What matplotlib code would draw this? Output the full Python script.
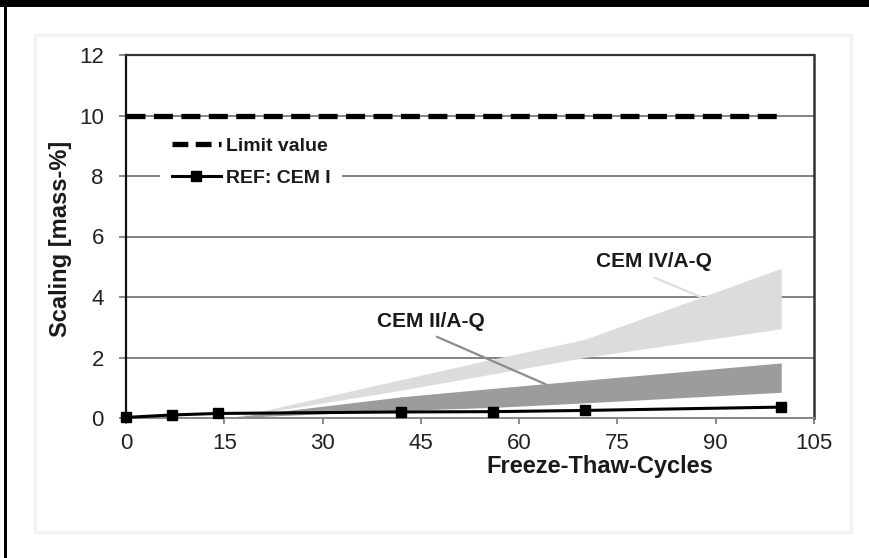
import matplotlib
matplotlib.use("Agg")
import matplotlib.pyplot as plt
from matplotlib.lines import Line2D
from matplotlib.patches import Rectangle

# ---- data ----
ref_x = [0, 7, 14, 42, 56, 70, 100]
ref_y = [0.02, 0.10, 0.15, 0.20, 0.21, 0.25, 0.36]

limit_x = [0, 100]
limit_y = [10, 10]

cem2_x = [15, 42, 56, 70, 100]
cem2_low = [0.0, 0.25, 0.35, 0.50, 0.85]
cem2_high = [0.0, 0.70, 0.98, 1.25, 1.82]

cem4_x = [16, 42, 56, 70, 100]
cem4_low = [0.0, 0.92, 1.46, 2.00, 2.95]
cem4_high = [0.0, 1.27, 1.95, 2.60, 4.95]

xticks = [0, 15, 30, 45, 60, 75, 90, 105]
yticks = [0, 2, 4, 6, 8, 10, 12]

W, H = 869, 558
plt.rcParams['font.family'] = ['Liberation Sans', 'DejaVu Sans']
fig = plt.figure(figsize=(W / 100, H / 100), dpi=100)

# page decorations
fig.patches.append(Rectangle((0, (H - 7) / H), 1, 7 / H, transform=fig.transFigure,
                             facecolor='black', edgecolor='none', zorder=0))
fig.patches.append(Rectangle((4 / W, 0), 3 / W, (H - 7) / H, transform=fig.transFigure,
                             facecolor='black', edgecolor='none', zorder=0))
fig.patches.append(Rectangle((35 / W, (H - 532) / H), (851 - 35) / W, (532 - 35) / H,
                             transform=fig.transFigure, facecolor='none',
                             edgecolor='#f2f3f2', linewidth=2.2, zorder=0))

ax = fig.add_axes([126 / W, (H - 418) / H, (814 - 126) / W, (418 - 55) / H])
ax.set_xlim(0, 105)
ax.set_ylim(0, 12)

for v in yticks[1:]:
    ax.axhline(v, color='#7a7a7a', linewidth=1.3, zorder=1)

ax.fill_between(cem2_x, cem2_low, cem2_high, color='#9c9c9c', linewidth=0, zorder=2)
ax.fill_between(cem4_x, cem4_low, cem4_high, color='#dbdcdb', linewidth=0, zorder=2.5)

ax.plot(limit_x, limit_y, color='black', linewidth=3.8,
        linestyle=(0, (3.6, 1.6)), zorder=7)
ax.plot(ref_x, ref_y, color='black', linewidth=2.2, marker='s', markersize=7,
        zorder=6, clip_on=False)

# annotations
ax.plot([47.5, 64], [2.68, 1.12], color='#8c8c8c', linewidth=1.6, zorder=3)
ax.text(46.5, 3.2, 'CEM II/A-Q', fontsize=15, fontweight='bold', ha='center',
        va='center', color='#1a1a1a', zorder=4)
ax.plot([80.8, 93.2], [4.63, 3.5], color='#dedede', linewidth=1.6, zorder=3)
ax.text(80.5, 5.16, 'CEM IV/A-Q', fontsize=15, fontweight='bold', ha='center',
        va='center', color='#1a1a1a', zorder=4)

# spines & ticks
ax.spines['left'].set_color('#111111')
ax.spines['left'].set_linewidth(1.6)
ax.spines['top'].set_color('#333333')
ax.spines['top'].set_linewidth(1.6)
ax.spines['right'].set_color('#333333')
ax.spines['right'].set_linewidth(1.8)
ax.spines['bottom'].set_color('#888888')
ax.spines['bottom'].set_linewidth(1.4)

ax.set_xticks(xticks)
ax.set_yticks(yticks)
ax.set_xticklabels([str(t) for t in xticks])
ax.set_yticklabels([str(t) for t in yticks])
ax.tick_params(axis='y', direction='out', length=5, width=1.2, color='#777777',
               labelsize=16, labelcolor='#222222', pad=11)
ax.tick_params(axis='x', direction='out', length=4, width=1.2, color='#777777',
               labelsize=16, labelcolor='#222222', pad=7)

fig.text(61 / W, (H - 239) / H, 'Scaling [mass-%]', rotation=90, fontsize=17,
         fontweight='bold', ha='center', va='center', color='#1a1a1a')
fig.text(600 / W, (H - 466) / H, 'Freeze-Thaw-Cycles', fontsize=17,
         fontweight='bold', ha='center', va='center', color='#1a1a1a')

handles = [Line2D([], [], color='black', linewidth=3.8, linestyle=(0, (3.0, 1.4))),
           Line2D([], [], color='black', linewidth=2.2, marker='s', markersize=7)]
leg = ax.legend(handles, ['Limit value', 'REF: CEM I'], loc='upper left',
                bbox_to_anchor=(0.05, 0.805), borderaxespad=0, frameon=True,
                fancybox=False, edgecolor='none', facecolor='white', framealpha=1,
                prop={'weight': 'bold', 'size': 14}, handlelength=2.5,
                handletextpad=0.25, labelspacing=0.75, borderpad=0.6)
leg.set_zorder(5)
for t in leg.get_texts():
    t.set_color('#1a1a1a')

fig.savefig('out.png', dpi=100)
